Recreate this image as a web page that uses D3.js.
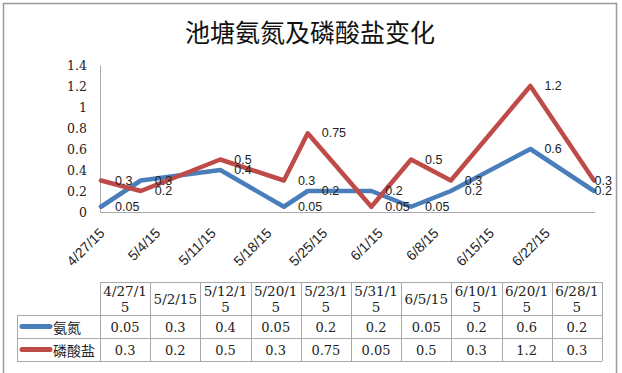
<!DOCTYPE html>
<html lang='zh'>

<head>
    <meta charset='UTF-8'>
    <title>池塘氨氮及磷酸盐变化</title>
    <script src='https://d3js.org/d3.v7.min.js' charset='utf-8'></script>
    <style>
        body {
            margin: 0px;
            overflow: hidden;
            background: #fff;
        }
    </style>
</head>

<body>
    <div id='chart'></div>
    <script>
        'use strict';

        const title = '池塘氨氮及磷酸盐变化';
        const categories = ['4/27/15', '5/2/15', '5/12/15', '5/20/15', '5/23/15', '5/31/15', '6/5/15', '6/10/15', '6/20/15', '6/28/15'];
        const ammonia = [0.05, 0.3, 0.4, 0.05, 0.2, 0.2, 0.05, 0.2, 0.6, 0.2];
        const phosphate = [0.3, 0.2, 0.5, 0.3, 0.75, 0.05, 0.5, 0.3, 1.2, 0.3];
        const seriesNames = ['氨氮', '磷酸盐'];
        const seriesColors = ['#4a7ebb', '#be4b48'];
        const yTicks = [0, 0.2, 0.4, 0.6, 0.8, 1, 1.2, 1.4];
        const xTickLabels = ['4/27/15', '5/4/15', '5/11/15', '5/18/15', '5/25/15', '6/1/15', '6/8/15', '6/15/15', '6/22/15'];

        const width = 622, height = 373;
        const parse = d3.timeParse('%m/%d/%y');

        const svg = d3.select('#chart')
            .append('svg')
            .attr('width', width)
            .attr('height', height);

        // outer frame
        svg.append('rect')
            .attr('x', 3.5).attr('y', 3.5)
            .attr('width', 613).attr('height', 400)
            .attr('fill', 'none')
            .attr('stroke', '#9a9a9a')
            .attr('stroke-width', 1.5);

        svg.append('text')
            .attr('x', 310).attr('y', 31)
            .attr('text-anchor', 'middle')
            .attr('dominant-baseline', 'central')
            .style('font-family', "'Noto Sans CJK SC', sans-serif")
            .style('font-size', '25px')
            .attr('fill', '#111')
            .text(title);

        const x = d3.scaleTime()
            .domain([parse(categories[0]), parse(categories[categories.length - 1])])
            .range([101, 594]);

        const y = d3.scaleLinear()
            .domain([0, 1.4])
            .range([212, 65]);

        // y axis
        const yAxis = svg.append('g')
            .attr('transform', 'translate(100,0)')
            .call(d3.axisLeft(y).tickValues(yTicks).tickSize(0).tickPadding(13).tickFormat(d => String(d)));
        yAxis.select('.domain').attr('stroke', '#aaa');
        yAxis.selectAll('text')
            .style('font-family', "'DejaVu Serif', serif")
            .style('font-size', '12.5px')
            .attr('fill', '#222');

        // x axis
        const xAxis = svg.append('g')
            .attr('transform', 'translate(0,212)')
            .call(d3.axisBottom(x)
                .tickValues(xTickLabels.map(parse))
                .tickSize(0)
                .tickFormat((d, i) => xTickLabels[i]));
        xAxis.select('.domain').attr('stroke', '#aaa').attr('d', 'M100,0.5H595');
        xAxis.selectAll('text')
            .style('font-family', "'Liberation Sans', sans-serif")
            .style('font-size', '14px')
            .attr('fill', '#222')
            .attr('text-anchor', 'end')
            .attr('dy', 0)
            .attr('y', 0)
            .attr('transform', 'translate(4,22) rotate(-45)');

        const series = [ammonia, phosphate];

        const line = d3.line()
            .x((d, i) => x(parse(categories[i])))
            .y(d => y(d));

        series.forEach((vals, s) => {
            svg.append('path')
                .datum(vals)
                .attr('d', line)
                .attr('fill', 'none')
                .attr('stroke', seriesColors[s])
                .attr('stroke-width', 4.5)
                .attr('stroke-linejoin', 'round')
                .attr('stroke-linecap', 'round');
        });

        // data labels to the right of each point, kept inside the frame
        series.forEach((vals, s) => {
            svg.append('g').selectAll('text')
                .data(vals)
                .join('text')
                .attr('x', (d, i) => x(parse(categories[i])) + 14)
                .attr('y', d => y(d))
                .attr('dominant-baseline', 'central')
                .style('font-family', "'Liberation Sans', sans-serif")
                .style('font-size', '12.5px')
                .attr('fill', '#222')
                .text(d => d)
                .each(function () {
                    const el = d3.select(this);
                    const w = this.getComputedTextLength();
                    const x0 = +el.attr('x');
                    if (x0 + w > 612) el.attr('x', 612 - w);
                });
        });

        // data table
        const col = d3.scaleBand()
            .domain(categories)
            .range([100, 602]);
        const rowTop = 282, headerH = 33, rowH = 23;
        const legendLeft = 17;
        const tbl = svg.append('g');
        const stroke = '#a8a8a8';

        // horizontal lines
        tbl.append('line')
            .attr('x1', 100).attr('x2', 602)
            .attr('y1', rowTop + 0.5).attr('y2', rowTop + 0.5)
            .attr('stroke', stroke);
        [0, 1, 2].forEach(r => {
            const yy = rowTop + headerH + r * rowH + 0.5;
            tbl.append('line')
                .attr('x1', legendLeft).attr('x2', 602)
                .attr('y1', yy).attr('y2', yy)
                .attr('stroke', stroke);
        });
        // vertical lines
        tbl.append('line')
            .attr('x1', legendLeft + 0.5).attr('x2', legendLeft + 0.5)
            .attr('y1', rowTop + headerH).attr('y2', rowTop + headerH + 2 * rowH)
            .attr('stroke', stroke);
        categories.concat(['end']).forEach(c => {
            const xx = Math.round(c === 'end' ? 602 : col(c)) + 0.5;
            tbl.append('line')
                .attr('x1', xx).attr('x2', xx)
                .attr('y1', rowTop).attr('y2', rowTop + headerH + 2 * rowH)
                .attr('stroke', stroke);
        });

        // header labels, wrapped after six characters
        categories.forEach(c => {
            const cx = col(c) + col.bandwidth() / 2;
            const lines = c.length > 6 ? [c.slice(0, 6), c.slice(6)] : [c];
            lines.forEach((t, k) => {
                tbl.append('text')
                    .attr('x', cx)
                    .attr('y', lines.length === 1 ? rowTop + headerH / 2 : rowTop + 9 + k * 16)
                    .attr('text-anchor', 'middle')
                    .attr('dominant-baseline', 'central')
                    .style('font-family', "'DejaVu Serif', serif")
                    .style('font-size', '13.5px')
                    .attr('fill', '#222')
                    .text(t);
            });
        });

        // series rows
        series.forEach((vals, s) => {
            const cy = rowTop + headerH + s * rowH + rowH / 2;
            tbl.append('line')
                .attr('x1', 22).attr('x2', 50)
                .attr('y1', cy).attr('y2', cy)
                .attr('stroke', seriesColors[s])
                .attr('stroke-width', 5)
                .attr('stroke-linecap', 'round');
            tbl.append('text')
                .attr('x', 53)
                .attr('y', cy)
                .attr('dominant-baseline', 'central')
                .style('font-family', "'Noto Sans CJK SC', sans-serif")
                .style('font-size', '14px')
                .attr('fill', '#222')
                .text(seriesNames[s]);
            tbl.append('g').selectAll('text')
                .data(vals)
                .join('text')
                .attr('x', (d, i) => col(categories[i]) + col.bandwidth() / 2)
                .attr('y', cy + 1)
                .attr('text-anchor', 'middle')
                .attr('dominant-baseline', 'central')
                .style('font-family', "'DejaVu Serif', serif")
                .style('font-size', '13px')
                .attr('fill', '#222')
                .text(d => d);
        });
    </script>
</body>

</html>
